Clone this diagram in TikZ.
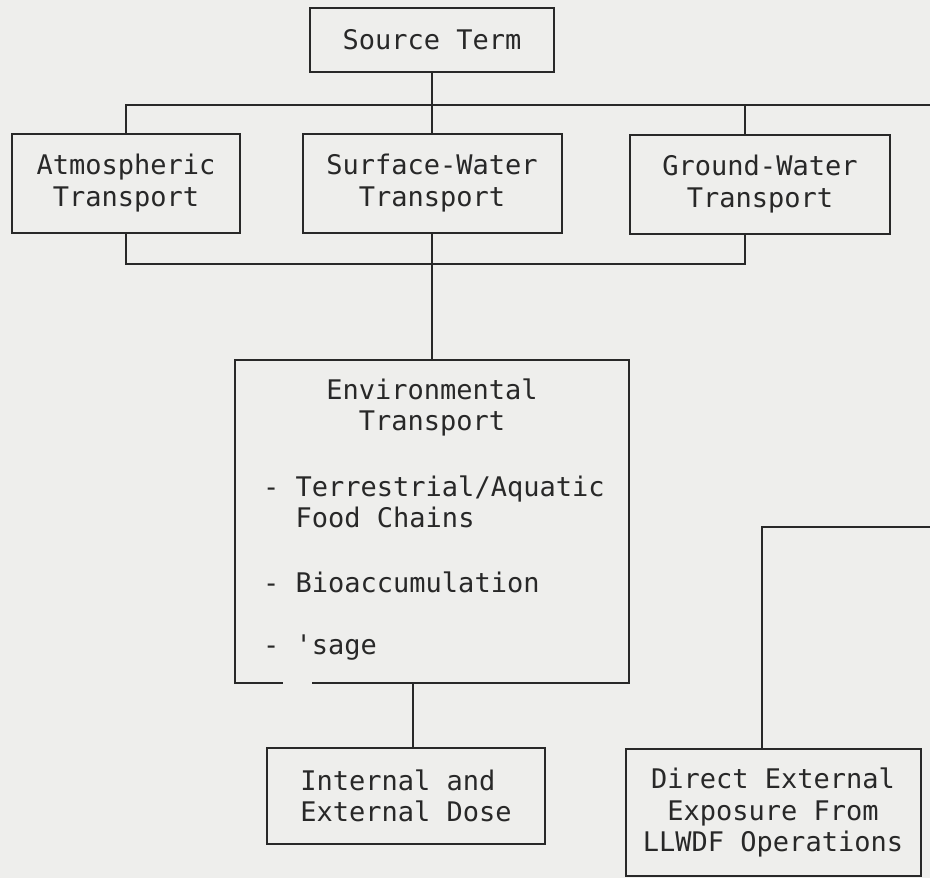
\documentclass[tikz,border=0pt]{standalone}
\usepackage{fontspec}
\setmonofont{DejaVu Sans Mono}
\usetikzlibrary{positioning}
\definecolor{scanbg}{RGB}{238,238,236}
\definecolor{inkgray}{RGB}{40,40,40}

\begin{document}
\begin{tikzpicture}[
  x=1pt, y=-1pt,
  box/.style={rectangle, draw=inkgray, line width=2pt, inner sep=4pt, align=center, text=inkgray, font=\ttfamily\fontsize{27}{31.5}\selectfont},
  txt/.style={inner sep=0pt, text=inkgray, font=\ttfamily\fontsize{27}{31.5}\selectfont},
  wire/.style={draw=inkgray, line width=2pt}
]
  \fill[scanbg] (0,0) rectangle (930,878);
  \useasboundingbox (0,0) rectangle (930,878);

  % Boxes
  \node[box, minimum width=244pt, minimum height=64pt] (src) at (432,40) {Source Term};
  \node[box, minimum width=228pt, minimum height=99pt] (atm) at (126,183) {Atmospheric\\Transport};
  \node[box, minimum width=259pt, minimum height=99pt] (sw) at (432,183) {Surface-Water\\Transport};
  \node[box, minimum width=260pt, minimum height=99pt] (gw) at (760,184) {Ground-Water\\Transport};
  \node[box, minimum width=394pt, minimum height=323pt] (env) at (432,521.5) {};
  \node[box, align=left, minimum width=278pt, minimum height=96pt] (dose) at (406,796) {Internal and\\External Dose};
  \node[box, minimum width=295pt, minimum height=127pt] (dir) at (773,812.5) {Direct External\\Exposure From\\LLWDF Operations};

  % Text inside the environmental box
  \node[txt, align=center] (envhead) at (432,407.5) {Environmental\\Transport};
  \node[txt, align=left, anchor=west] (envlist) at (263,568) {- Terrestrial/Aquatic\\\phantom{- }Food Chains\\[33pt]- Bioaccumulation\\[31pt]- 'sage};
  \draw[scanbg, line width=3.5pt] (283,683) -- (312,683);

  % Tap points
  \coordinate (busR) at (930,105);
  \coordinate (gwtap) at (745,105);
  \coordinate (busB) at (745,264);
  \coordinate (dosetap) at (413,683);
  \coordinate (feedR) at (930,527);
  \coordinate (dirtap) at (762,527);

  % Connectors
  \draw[wire] (atm) |- (busR);
  \draw[wire] (src) -- (sw);
  \draw[wire] (gwtap) -- (gwtap |- gw.north);
  \draw[wire] (atm) |- (busB) -- (busB |- gw.south);
  \draw[wire] (sw) -- (env);
  \draw[wire] (dosetap) -- (dosetap |- dose.north);
  \draw[wire] (feedR) -- (dirtap) -- (dirtap |- dir.north);
\end{tikzpicture}
\end{document}
